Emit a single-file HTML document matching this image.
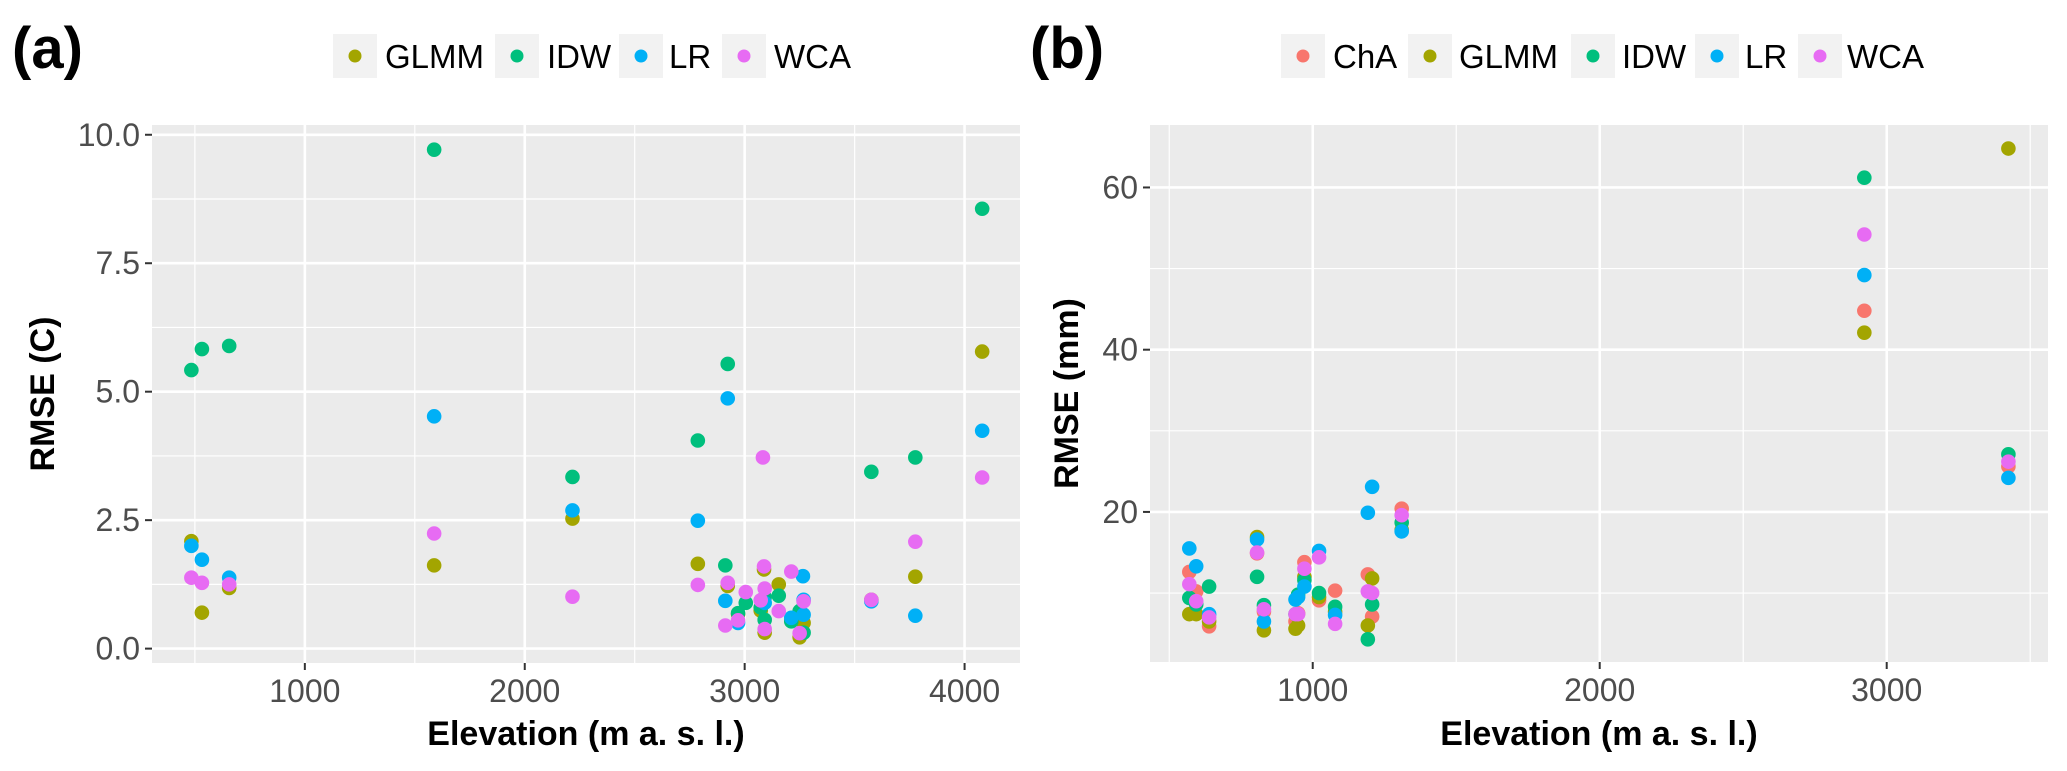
<!DOCTYPE html>
<html><head><meta charset="utf-8"><style>
html,body{margin:0;padding:0;background:#fff;}
svg{display:block;font-family:"Liberation Sans",Arial,sans-serif;}
</style></head><body>
<svg id="chart" width="2067" height="771" viewBox="0 0 2067 771" xmlns="http://www.w3.org/2000/svg"></svg>
<script>
// ---- Panel (a) data: temperature RMSE ----
const aGLMMx=[484,532,656,1588,2217,2787,2923,2970,3073,3088,3091,3155,3212,3268,3250,3576,3776,4080];
const aGLMMy=[2.09,0.70,1.18,1.62,2.53,1.65,1.22,0.67,0.74,1.54,0.31,1.25,0.55,0.50,0.22,0.95,1.40,5.78];
const aIDWx=[484,532,656,1588,2217,2787,2923,2912,2970,3005,3073,3091,3091,3155,3212,3250,3268,3576,3776,4080];
const aIDWy=[5.42,5.83,5.89,9.71,3.34,4.05,5.54,1.62,0.69,0.89,0.80,1.00,0.56,1.03,0.53,0.73,0.31,3.44,3.72,8.56];
const aLRx=[484,532,656,1588,2217,2787,2923,2912,2970,3091,3212,3265,3268,3268,3576,3776,4080];
const aLRy=[2.00,1.73,1.38,4.52,2.69,2.49,4.87,0.93,0.50,0.89,0.60,1.41,0.95,0.66,0.92,0.64,4.24];
const aWCAx=[484,532,656,1588,2217,2787,2923,2912,2970,3005,3073,3083,3088,3091,3091,3155,3212,3268,3250,3576,3776,4080];
const aWCAy=[1.38,1.28,1.25,2.24,1.01,1.24,1.28,0.45,0.55,1.10,0.94,3.72,1.60,1.17,0.38,0.73,1.50,0.92,0.30,0.95,2.08,3.33];
const aXTicks=[1000,2000,3000,4000];
const aYTicks=[0,2.5,5,7.5,10];
const aYTickLabels=["0.0","2.5","5.0","7.5","10.0"];

// ---- Panel (b) data: precipitation RMSE ----
const bX=[570,594,639,806,830,940,949,971,1022,1078,1192,1207,1310,2922,3424];
const bChA=[12.6,10.2,5.9,14.9,7.7,6.5,7.5,13.8,9.1,10.3,12.3,7.1,20.4,44.8,25.6];
const bGLMM=[7.4,7.4,6.5,16.9,5.4,5.6,6.0,12.0,9.5,7.7,6.0,11.8,17.8,42.1,64.8];
const bIDW=[9.4,8.6,10.8,12.0,8.5,7.4,9.8,11.6,10.0,8.3,4.3,8.6,18.7,61.2,27.1];
const bLR=[15.5,13.3,7.4,16.6,6.5,9.2,9.5,10.8,15.2,7.3,19.9,23.1,17.6,49.2,24.2];
const bWCA=[11.1,9.0,7.0,15.0,8.0,7.4,7.4,13.0,14.4,6.2,10.2,10.0,19.6,54.2,26.2];
const bXTicks=[1000,2000,3000];
const bYTicks=[20,40,60];

const COL={ChA:"#F8766D",GLMM:"#A3A500",IDW:"#00BF7D",LR:"#00B0F6",WCA:"#E76BF3"};
const NS="http://www.w3.org/2000/svg";
const svg=document.getElementById("chart");
function el(tag,attrs,parent){const e=document.createElementNS(NS,tag);for(const k in attrs)e.setAttribute(k,attrs[k]);(parent||svg).appendChild(e);return e;}

function panel(cfg){
  const g=el("g",{});
  
  
  const sx=v=>cfg.L+(v-cfg.x0)/(cfg.x1-cfg.x0)*(cfg.R-cfg.L);
  const sy=v=>cfg.B-(v-cfg.y0)/(cfg.y1-cfg.y0)*(cfg.B-cfg.T);
  const bg=el("rect",{x:cfg.L,y:cfg.T,width:cfg.R-cfg.L,height:cfg.B-cfg.T,fill:"#EBEBEB"},g);
  
  
  cfg.xMinor.forEach(v=>{const l=el("line",{x1:sx(v),x2:sx(v),y1:cfg.T,y2:cfg.B,stroke:"#fff","stroke-width":1.2},g);});
  cfg.yMinor.forEach(v=>{const l=el("line",{x1:cfg.L,x2:cfg.R,y1:sy(v),y2:sy(v),stroke:"#fff","stroke-width":1.2},g);});
  cfg.xTicks.forEach(v=>{
    const l=el("line",{x1:sx(v),x2:sx(v),y1:cfg.T,y2:cfg.B,stroke:"#fff","stroke-width":2.6},g);
    
    
    const t=el("line",{x1:sx(v),x2:sx(v),y1:cfg.B,y2:cfg.B+7,stroke:"#333","stroke-width":2},g);
    
    
    const tx=el("text",{x:sx(v),y:cfg.B+39,"text-anchor":"middle","font-size":32,fill:"#4D4D4D"},g);
    tx.textContent=String(v);
    
    
  });
  cfg.yTicks.forEach((v,i)=>{
    const l=el("line",{x1:cfg.L,x2:cfg.R,y1:sy(v),y2:sy(v),stroke:"#fff","stroke-width":2.6},g);
    
    
    const t=el("line",{x1:cfg.L-7,x2:cfg.L,y1:sy(v),y2:sy(v),stroke:"#333","stroke-width":2},g);
    
    
    const tx=el("text",{x:cfg.L-12,y:sy(v)+11,"text-anchor":"end","font-size":32,fill:"#4D4D4D"},g);
    tx.textContent=cfg.yLabels?cfg.yLabels[i]:String(v);
    
    
  });
  cfg.series.forEach(s=>{
    s.x.forEach((xv,i)=>{
      const c=el("circle",{cx:sx(xv),cy:sy(s.y[i]),r:7.3,fill:COL[s.k]},g);
      
      
    });
  });
  const xt=el("text",{x:(cfg.L+cfg.R)/2,y:745,"text-anchor":"middle","font-size":34,"font-weight":"bold",fill:"#000"},g);
  xt.textContent="Elevation (m a. s. l.)";
  
  
  const cy=(cfg.T+cfg.B)/2;
  const yt=el("text",{x:cfg.yTitleX,y:cy,"text-anchor":"middle","font-size":34,"font-weight":"bold",fill:"#000",transform:`rotate(-90 ${cfg.yTitleX} ${cy})`},g);
  yt.textContent=cfg.yTitle;
  
  
  const pl=el("text",{x:cfg.tagX,y:68,"font-size":58,"font-weight":"bold",fill:"#000"},g);
  pl.textContent=cfg.tag;
  
  
  cfg.legend.forEach(e=>{
    const lg=el("g",{},g);
    
    
    el("rect",{x:e.bx,y:34,width:44,height:44,fill:"#F2F2F2"},lg);
    el("circle",{cx:e.bx+22,cy:56,r:6.5,fill:COL[e.k]},lg);
    const t=el("text",{x:e.tx,y:68,"font-size":33,fill:"#000"},lg);
    t.textContent=e.k;
  });
}

panel({name:"panel-a-temperature",L:152,R:1020,T:125,B:663,x0:305,x1:4252,y0:-0.28,y1:10.19,
  xTicks:aXTicks,xMinor:[500,1500,2500,3500],yTicks:aYTicks,yLabels:aYTickLabels,yMinor:[1.25,3.75,6.25,8.75],
  series:[{k:"GLMM",x:aGLMMx,y:aGLMMy},{k:"IDW",x:aIDWx,y:aIDWy},{k:"LR",x:aLRx,y:aLRy},{k:"WCA",x:aWCAx,y:aWCAy}],
  yTitle:"RMSE (C)",yTitleX:54,tag:"(a)",tagX:12,
  legend:[{k:"GLMM",bx:333,tx:385},{k:"IDW",bx:495,tx:547},{k:"LR",bx:619,tx:669},{k:"WCA",bx:722,tx:774}]});

panel({name:"panel-b-precipitation",L:1150,R:2048,T:125,B:662,x0:433,x1:3562,y0:1.5,y1:67.7,
  xTicks:bXTicks,xMinor:[500,1500,2500,3500],yTicks:bYTicks,yMinor:[10,30,50],
  series:[{k:"ChA",x:bX,y:bChA},{k:"GLMM",x:bX,y:bGLMM},{k:"IDW",x:bX,y:bIDW},{k:"LR",x:bX,y:bLR},{k:"WCA",x:bX,y:bWCA}],
  yTitle:"RMSE (mm)",yTitleX:1078,tag:"(b)",tagX:1030,
  legend:[{k:"ChA",bx:1281,tx:1333},{k:"GLMM",bx:1408,tx:1459},{k:"IDW",bx:1571,tx:1622},{k:"LR",bx:1695,tx:1745},{k:"WCA",bx:1798,tx:1847}]});
</script>
</body></html>
